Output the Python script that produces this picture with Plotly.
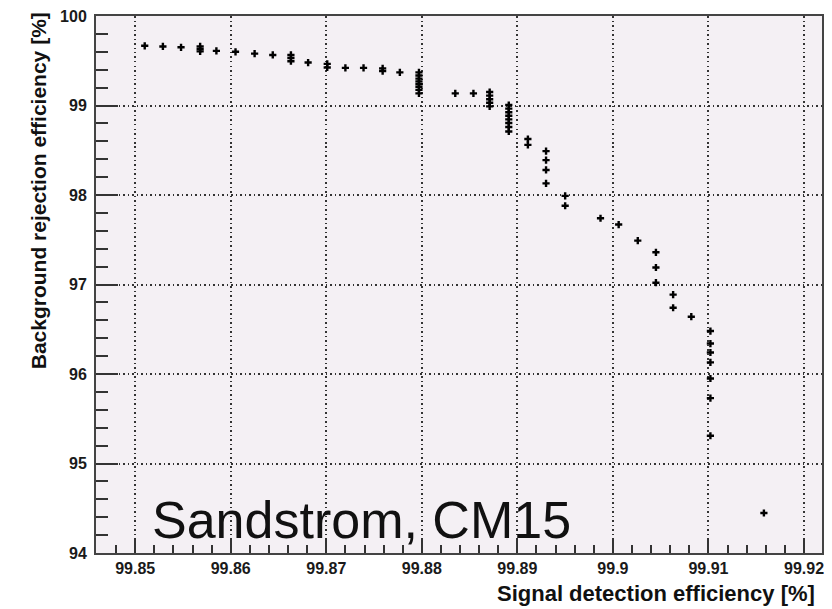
import plotly.graph_objects as go

# Signal detection efficiency [%] (x) and background rejection efficiency [%] (y)
signal_eff = [
    99.8510, 99.8529, 99.8548,
    99.8568, 99.8568, 99.8568,
    99.8585, 99.8605, 99.8625, 99.8644,
    99.8663, 99.8663, 99.8663,
    99.8681,
    99.8701, 99.8701,
    99.8720, 99.8739,
    99.8759, 99.8759,
    99.8777,
    99.8797, 99.8797, 99.8797, 99.8797, 99.8797, 99.8797, 99.8797, 99.8797,
    99.8835, 99.8854,
    99.8871, 99.8871, 99.8871, 99.8871, 99.8871,
    99.8891, 99.8891, 99.8891, 99.8891, 99.8891, 99.8891, 99.8891, 99.8891,
    99.8911, 99.8911,
    99.8930, 99.8930, 99.8930, 99.8930,
    99.8950, 99.8950,
    99.8987, 99.9006, 99.9026,
    99.9045, 99.9045, 99.9045,
    99.9063, 99.9063, 99.9082,
    99.9102, 99.9102, 99.9102, 99.9102, 99.9102, 99.9102, 99.9102,
    99.9158,
]
background_rej = [
    99.667, 99.660, 99.650,
    99.660, 99.630, 99.605,
    99.610, 99.600, 99.580, 99.565,
    99.565, 99.530, 99.495,
    99.480,
    99.465, 99.425,
    99.420, 99.420,
    99.415, 99.385,
    99.370,
    99.370, 99.335, 99.300, 99.270, 99.240, 99.210, 99.175, 99.135,
    99.135, 99.135,
    99.150, 99.110, 99.070, 99.030, 98.990,
    99.005, 98.965, 98.925, 98.885, 98.845, 98.805, 98.760, 98.710,
    98.625, 98.560,
    98.490, 98.390, 98.280, 98.130,
    97.990, 97.880,
    97.740, 97.670, 97.490,
    97.360, 97.190, 97.020,
    96.887, 96.740, 96.640,
    96.480, 96.340, 96.240, 96.130, 95.950, 95.730, 95.310,
    94.447,
]

x_range = [99.8459, 99.92188]
y_range = [94, 100]

fig = go.Figure()
fig.add_trace(go.Scatter(
    x=signal_eff, y=background_rej, mode="markers",
    marker=dict(symbol="cross", size=6, color="black", line=dict(width=0)),
    showlegend=False, hoverinfo="x+y",
))

axis_font = dict(family="Liberation Sans, Arial, sans-serif", size=16, color="#1a1a1a", weight="bold")
grid_style = dict(showgrid=True, gridcolor="#333333", gridwidth=1.5, griddash="1.5px,3px")

fig.update_xaxes(
    range=x_range, tick0=99.85, dtick=0.01, tickformat="~g",
    ticks="inside", ticklen=15, tickwidth=1.5, tickcolor="#333333",
    minor=dict(ticks="inside", ticklen=8, tickwidth=1.5, tickcolor="#333333", dtick=0.002, tick0=99.85, showgrid=False),
    showline=True, linecolor="#444444", linewidth=2, mirror=True,
    tickfont=axis_font, zeroline=False, ticklabelstandoff=0,
    **grid_style,
)
fig.update_yaxes(
    range=y_range, tick0=94, dtick=1,
    ticks="inside", ticklen=22, tickwidth=1.5, tickcolor="#333333",
    minor=dict(ticks="inside", ticklen=12, tickwidth=1.5, tickcolor="#333333", dtick=0.2, tick0=94, showgrid=False),
    showline=True, linecolor="#444444", linewidth=2, mirror=True,
    tickfont=axis_font, zeroline=False, ticklabelstandoff=4,
    **grid_style,
)

fig.update_layout(
    width=832, height=609,
    margin=dict(l=96, r=8, t=12, b=56),
    plot_bgcolor="#f4f0f4", paper_bgcolor="white",
    annotations=[
        dict(text="Signal detection efficiency [%]", xref="paper", yref="paper",
             x=(819 - 96) / 728, y=-(594 - 553) / 541, xanchor="right", yanchor="middle",
             showarrow=False,
             font=dict(family="Liberation Sans, Arial, sans-serif", size=22, color="#111111", weight="bold")),
        dict(text="Background rejection efficiency [%]", xref="paper", yref="paper",
             x=-(96 - 38) / 728, y=1.01, xanchor="center", yanchor="top", textangle=-90,
             showarrow=False,
             font=dict(family="Liberation Sans, Arial, sans-serif", size=21, color="#111111", weight="bold")),
        dict(text="Sandstrom, CM15", xref="paper", yref="paper",
             x=(150 - 96) / 728, y=(553 - 520) / 541, xanchor="left", yanchor="middle",
             showarrow=False,
             font=dict(family="Liberation Sans, Arial, sans-serif", size=52, color="#111111")),
    ],
)

fig.write_html("out.html")
